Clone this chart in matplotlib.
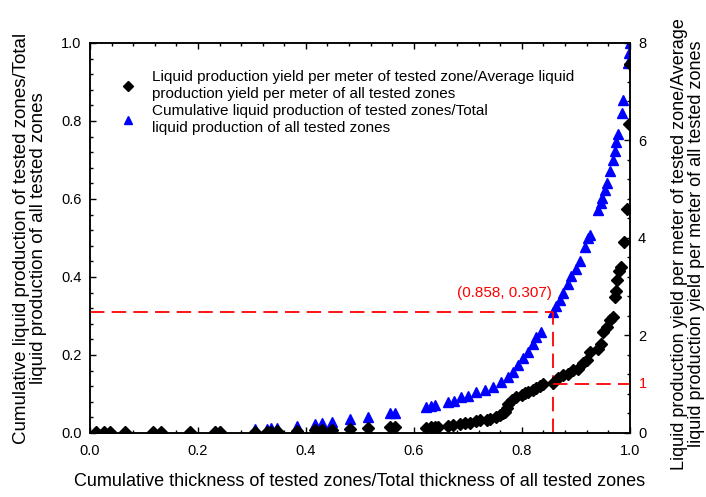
import matplotlib
matplotlib.use("Agg")
import matplotlib.pyplot as plt
from matplotlib.ticker import AutoMinorLocator

plt.rcParams['font.family'] = ['Liberation Sans', 'DejaVu Sans']

# cumulative liquid production share (left axis)
x_cum = [0.012, 0.025, 0.037, 0.065, 0.117, 0.131, 0.185, 0.231, 0.241, 0.306,
         0.327, 0.336, 0.346, 0.384, 0.417, 0.429, 0.449, 0.481, 0.515, 0.556, 0.565,
         0.623, 0.632, 0.639, 0.664, 0.674, 0.688, 0.700, 0.716, 0.731, 0.747,
         0.762, 0.775, 0.784, 0.793, 0.802, 0.812, 0.821, 0.827, 0.836,
         0.857, 0.864, 0.870, 0.876, 0.886, 0.892, 0.901, 0.907, 0.917, 0.923,
         0.926, 0.941, 0.947, 0.949, 0.954, 0.957, 0.963, 0.969, 0.972, 0.975,
         0.978, 0.985, 0.988, 0.997, 0.999, 1.0]
cum = [0.0, 0.0, 0.001, 0.001, 0.001, 0.002, 0.003, 0.004, 0.004, 0.010,
       0.011, 0.012, 0.013, 0.018, 0.024, 0.025, 0.029, 0.035, 0.040, 0.050, 0.051,
       0.067, 0.069, 0.072, 0.080, 0.083, 0.091, 0.095, 0.104, 0.110, 0.119,
       0.132, 0.144, 0.157, 0.174, 0.192, 0.208, 0.228, 0.245, 0.258,
       0.311, 0.326, 0.342, 0.360, 0.382, 0.403, 0.420, 0.441, 0.478, 0.500,
       0.508, 0.571, 0.590, 0.602, 0.623, 0.642, 0.672, 0.700, 0.724, 0.746,
       0.767, 0.821, 0.854, 0.948, 0.974, 1.0]

# yield per meter / average yield per meter (right axis)
x_yield = [0.012, 0.025, 0.037, 0.065, 0.117, 0.131, 0.185, 0.231, 0.241, 0.306,
           0.327, 0.336, 0.346, 0.384, 0.417, 0.429, 0.449, 0.481, 0.515, 0.556, 0.565,
           0.623, 0.632, 0.639, 0.645, 0.664, 0.673, 0.685, 0.694, 0.704, 0.716,
           0.722, 0.735, 0.741, 0.753, 0.759, 0.765, 0.769, 0.772, 0.775, 0.781,
           0.790, 0.800, 0.806, 0.812, 0.821, 0.827, 0.833, 0.840,
           0.857, 0.867, 0.876, 0.886, 0.895, 0.904, 0.914, 0.920, 0.926, 0.941,
           0.947, 0.951, 0.957, 0.963, 0.969, 0.972, 0.975, 0.976, 0.980, 0.983,
           0.989, 0.995, 0.999, 1.0]
ratio = [0.01, 0.01, 0.01, 0.01, 0.01, 0.01, 0.02, 0.02, 0.02, 0.03,
         0.03, 0.03, 0.04, 0.05, 0.06, 0.06, 0.07, 0.09, 0.10, 0.12, 0.12,
         0.11, 0.12, 0.12, 0.13, 0.14, 0.16, 0.18, 0.20, 0.21, 0.24,
         0.26, 0.27, 0.29, 0.33, 0.36, 0.40, 0.44, 0.52, 0.60, 0.68,
         0.74, 0.78, 0.82, 0.84, 0.88, 0.92, 0.96, 1.0,
         1.02, 1.12, 1.19, 1.22, 1.29, 1.32, 1.43, 1.49, 1.66, 1.73,
         1.83, 2.07, 2.17, 2.31, 2.38, 2.79, 2.92, 3.13, 3.33, 3.40,
         3.91, 4.6, 6.33, 7.56]

mark_x, mark_y, mark_ratio = 0.858, 0.31, 1.0

fig = plt.figure(figsize=(7.06, 4.97), dpi=100)
ax = fig.add_axes([0.1275, 0.1288, 0.7645, 0.7847])
ax2 = ax.twinx()

ax.plot(x_cum, cum, linestyle='none', marker='^', color='#0000ff', ms=7.5,
        label='Cumulative liquid production of tested zones/Total\nliquid production of all tested zones')
ax2.plot(x_yield, ratio, linestyle='none', marker='D', color='black', ms=6.5,
         label='Liquid production yield per meter of tested zone/Average liquid\nproduction yield per meter of all tested zones')

# red guide lines
dash = (0, (8, 4))
ax.plot([0, mark_x], [mark_y, mark_y], color='red', lw=1.3, linestyle=dash)
ax.plot([mark_x, mark_x], [0, mark_y], color='red', lw=1.3, linestyle=dash)
ax2.plot([mark_x, 1.0], [mark_ratio, mark_ratio], color='red', lw=1.3, linestyle=dash)
ax.text(0.768, 0.36, '(0.858, 0.307)', color='red', fontsize=11, ha='center', va='center')
ax2.text(1.017, mark_ratio, '1', color='red', fontsize=10.5, ha='left', va='center',
         transform=ax2.get_yaxis_transform())

ax.set_xlim(0, 1)
ax.set_ylim(0, 1)
ax2.set_ylim(0, 8)
ax.set_xticks([0, 0.2, 0.4, 0.6, 0.8, 1.0])
ax.set_yticks([0, 0.2, 0.4, 0.6, 0.8, 1.0])
ax2.set_yticks([0, 2, 4, 6, 8])
ax.xaxis.set_minor_locator(AutoMinorLocator(5))
ax.yaxis.set_minor_locator(AutoMinorLocator(5))
ax2.yaxis.set_minor_locator(AutoMinorLocator(5))

ax.tick_params(which='both', direction='in', top=True, labelsize=10.5, width=1)
ax.tick_params(which='major', length=4)
ax.tick_params(which='minor', length=2.5)
ax.tick_params(axis='x', pad=8)
ax.tick_params(axis='y', pad=6)
ax2.tick_params(which='both', direction='in', labelsize=10.5, width=1, pad=6)
ax2.tick_params(which='major', length=4)
ax2.tick_params(which='minor', length=2.5)
for a in (ax, ax2):
    for s in a.spines.values():
        s.set_linewidth(1.1)

ax.set_xlabel('Cumulative thickness of tested zones/Total thickness of all tested zones',
              fontsize=13, labelpad=11)
ax.set_ylabel('Cumulative liquid production of tested zones/Total\nliquid production of all tested zones',
              fontsize=13.5, labelpad=10, linespacing=1.0)
ax2.set_ylabel('Liquid production yield per meter of tested zone/Average\nliquid production yield per meter of all tested zones',
               fontsize=13, rotation=90, linespacing=1.0)
ax2.yaxis.set_label_coords(1.077, 0.485)

h1, l1 = ax2.get_legend_handles_labels()
h2, l2 = ax.get_legend_handles_labels()
ax2.legend(h1 + h2, l1 + l2, loc='upper left', bbox_to_anchor=(0.03, 0.965),
           frameon=False, fontsize=11, handlelength=1.0, handletextpad=1.1,
           labelspacing=0.25, markerscale=0.75)

fig.savefig('out.png', dpi=100)
